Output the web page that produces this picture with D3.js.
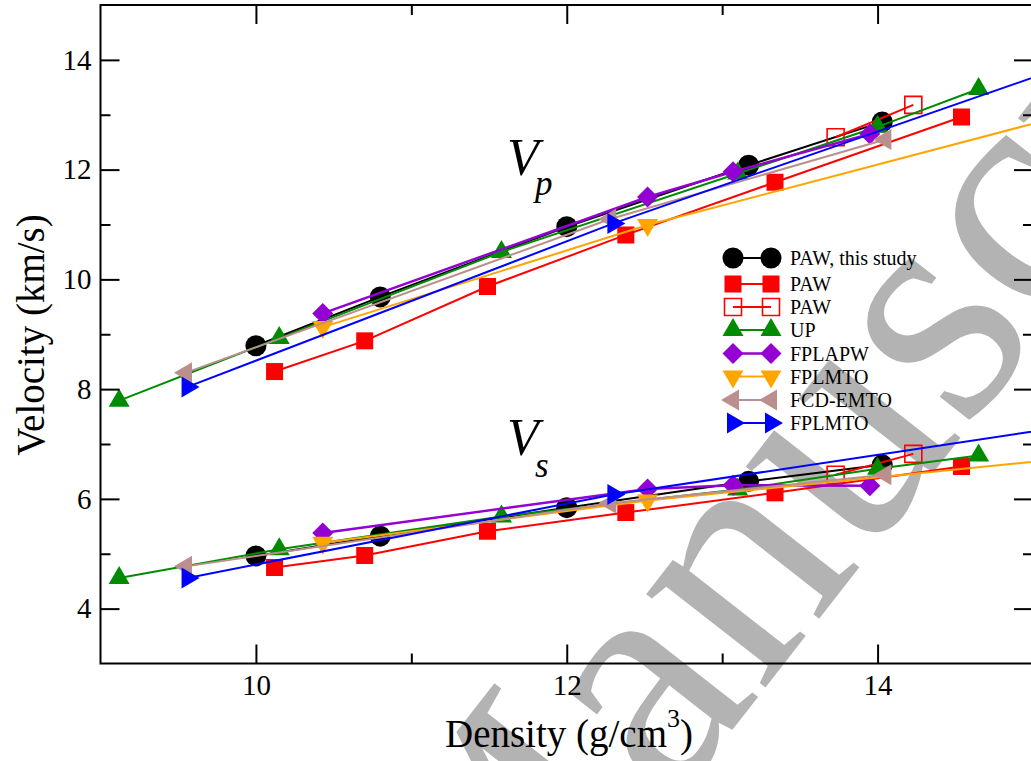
<!DOCTYPE html>
<html><head><meta charset="utf-8">
<script src="https://cdn.jsdelivr.net/npm/d3@7"></script>
<style>
body{margin:0;background:#fff}
svg{display:block}
text{font-family:"Liberation Serif","Times New Roman",serif}
</style>
</head><body>
<svg id="c" width="1031" height="761"></svg>
<script>
// ---------------- data ----------------
const densPawThis = [10.00, 10.80, 12.00, 13.17, 14.03];
const vpPawThis   = [8.79, 9.68, 10.96, 12.08, 12.87];
const vsPawThis   = [4.96, 5.32, 5.84, 6.32, 6.62];

const densPaw = [10.12, 10.70, 11.49, 12.38, 13.34, 14.54];
const vpPaw   = [8.32, 8.88, 9.87, 10.81, 11.77, 12.96];
const vsPaw   = [4.75, 4.97, 5.41, 5.75, 6.11, 6.59];

const densPawOpen = [13.73, 14.23];
const vpPawOpen   = [12.59, 13.18];
const vsPawOpen   = [6.44, 6.82];

const densUP = [9.12, 10.15, 11.58, 13.10, 14.00, 14.65];
const vpUP   = [7.79, 8.93, 10.50, 11.93, 12.78, 13.47];
const vsUP   = [4.56, 5.08, 5.68, 6.17, 6.55, 6.79];

const densFPLAPW = [10.43, 12.52, 13.07, 13.95];
const vpFPLAPW   = [9.38, 11.50, 11.96, 12.65];
const vsFPLAPW   = [5.38, 6.18, 6.25, 6.24];

const densFPLMTO = [10.43, 12.52, 15.5];
const vpFPLMTO   = [9.13, 10.99, 13.21];
const vsFPLMTO   = [5.20, 5.97, 6.82];

const densFCD = [9.55, 12.28, 14.05];
const vpFCD   = [8.30, 11.10, 12.55];
const vsFCD   = [4.77, 5.92, 6.44];

const densFPLMTO2 = [9.56, 12.30, 15.5];
const vpFPLMTO2   = [8.04, 11.02, 14.17];
const vsFPLMTO2   = [4.56, 6.08, 7.44];

const seriesNames = ["PAW, this study", "PAW", "PAW", "UP", "FPLAPW", "FPLMTO", "FCD-EMTO", "FPLMTO"];

const xDomain = [9, 15];
const yDomain = [3, 15];
const xTicksMajor = [10, 12, 14];
const xTicksMinor = [11, 13];
const yTicksMajor = [4, 6, 8, 10, 12, 14];
const yTicksMinor = [5, 7, 9, 11, 13];

const xTitle = "Density (g/cm";
const xTitleSup = "3";
const yTitle = "Velocity (km/s)";
const watermark = "Manuscript";

// ---------------- setup ----------------
const svg = d3.select("#c");
const x = d3.scaleLinear().domain(xDomain).range([100.5, 1033]);
const y = d3.scaleLinear().domain(yDomain).range([663.5, 5]);

// watermark (behind everything)
svg.append("text")
  .attr("transform", "translate(490,1040) rotate(-52)")
  .attr("font-size", 330)
  .attr("fill", "#b3b3b3")
  .text(watermark);

const series = [
  {dens: densPawThis, vp: vpPawThis, vs: vsPawThis, color: "#000000", sym: "circle", open: false, w: 2},
  {dens: densPaw, vp: vpPaw, vs: vsPaw, color: "#ff0000", sym: "square", open: false, w: 2},
  {dens: densPawOpen, vp: vpPawOpen, vs: vsPawOpen, color: "#ff0000", sym: "square", open: true, w: 2},
  {dens: densUP, vp: vpUP, vs: vsUP, color: "#008b00", sym: "triUp", open: false, w: 2},
  {dens: densFPLAPW, vp: vpFPLAPW, vs: vsFPLAPW, color: "#9400d3", sym: "diamond", open: false, w: 2.5},
  {dens: densFPLMTO, vp: vpFPLMTO, vs: vsFPLMTO, color: "#ffa500", sym: "triDown", open: false, w: 2},
  {dens: densFCD, vp: vpFCD, vs: vsFCD, color: "#bc8f8f", sym: "triLeft", open: false, w: 2},
  {dens: densFPLMTO2, vp: vpFPLMTO2, vs: vsFPLMTO2, color: "#0000ff", sym: "triRight", open: false, w: 2}
];
series.forEach((s, i) => s.name = seriesNames[i]);

function symbolPath(type) {
  switch (type) {
    case "circle": return "M10.5,0A10.5,10.5 0 1,1 -10.5,0A10.5,10.5 0 1,1 10.5,0Z";
    case "square": return "M-8.5,-8.5H8.5V8.5H-8.5Z";
    case "triUp": return "M0,-12L10.5,6L-10.5,6Z";
    case "triDown": return "M0,12L10.5,-6L-10.5,-6Z";
    case "triLeft": return "M-12,0L6,-10.5L6,10.5Z";
    case "triRight": return "M12,0L-6,-10.5L-6,10.5Z";
    case "diamond": return "M0,-10.5L10.5,0L0,10.5L-10.5,0Z";
  }
}

// clip
svg.append("clipPath").attr("id", "plotclip").append("rect")
  .attr("x", x(xDomain[0])).attr("y", y(yDomain[1]))
  .attr("width", x(xDomain[1]) - x(xDomain[0]))
  .attr("height", y(yDomain[0]) - y(yDomain[1]));

const plot = svg.append("g").attr("clip-path", "url(#plotclip)");
const line = d3.line().x(d => x(d[0])).y(d => y(d[1]));

series.forEach(s => {
  ["vp", "vs"].forEach(k => {
    const pts = s.dens.map((d, i) => [d, s[k][i]]);
    const g = plot.append("g");
    g.append("path").attr("d", line(pts)).attr("fill", "none")
      .attr("stroke", s.color).attr("stroke-width", s.w);
    g.selectAll("path.m").data(pts).join("path").attr("class", "m")
      .attr("d", symbolPath(s.sym))
      .attr("transform", d => `translate(${x(d[0])},${y(d[1])})`)
      .attr("fill", s.open ? "none" : s.color)
      .attr("stroke", s.open ? s.color : "none")
      .attr("stroke-width", 1.6);
  });
});

// axes
const fontTick = 29;
function styleAxis(g) {
  g.attr("font-family", null);
  g.select(".domain").remove();
  g.selectAll(".tick line").attr("stroke", "#000").attr("stroke-width", 2);
  g.selectAll("text").attr("font-size", fontTick).attr("fill", "#000");
}
svg.append("g").attr("transform", `translate(0,${y(yDomain[0])})`)
  .call(d3.axisBottom(x).tickValues(xTicksMajor).tickSize(-19).tickPadding(11).tickFormat(d3.format("d"))).call(styleAxis);
svg.append("g").attr("transform", `translate(0,${y(yDomain[0])})`)
  .call(d3.axisBottom(x).tickValues(xTicksMinor).tickSize(-10).tickFormat("")).call(styleAxis);
svg.append("g").attr("transform", `translate(0,${y(yDomain[1])})`)
  .call(d3.axisTop(x).tickValues(xTicksMajor).tickSize(-19).tickFormat("")).call(styleAxis);
svg.append("g").attr("transform", `translate(0,${y(yDomain[1])})`)
  .call(d3.axisTop(x).tickValues(xTicksMinor).tickSize(-10).tickFormat("")).call(styleAxis);
svg.append("g").attr("transform", `translate(${x(xDomain[0])},0)`)
  .call(d3.axisLeft(y).tickValues(yTicksMajor).tickSize(-19).tickPadding(9).tickFormat(d3.format("d"))).call(styleAxis);
svg.append("g").attr("transform", `translate(${x(xDomain[0])},0)`)
  .call(d3.axisLeft(y).tickValues(yTicksMinor).tickSize(-10).tickFormat("")).call(styleAxis);
svg.append("g").attr("transform", `translate(${x(xDomain[1])},0)`)
  .call(d3.axisRight(y).tickValues(yTicksMajor).tickSize(-19).tickFormat("")).call(styleAxis);
svg.append("g").attr("transform", `translate(${x(xDomain[1])},0)`)
  .call(d3.axisRight(y).tickValues(yTicksMinor).tickSize(-10).tickFormat("")).call(styleAxis);

// frame
svg.append("rect")
  .attr("x", x(xDomain[0])).attr("y", y(yDomain[1]))
  .attr("width", x(xDomain[1]) - x(xDomain[0]))
  .attr("height", y(yDomain[0]) - y(yDomain[1]))
  .attr("fill", "none").attr("stroke", "#000").attr("stroke-width", 2);

// axis titles
const xt = svg.append("text").attr("x", 569).attr("y", 747)
  .attr("text-anchor", "middle").attr("font-size", 39).attr("fill", "#000");
xt.append("tspan").text(xTitle);
xt.append("tspan").attr("font-size", 26).attr("dy", -20).text(xTitleSup);
xt.append("tspan").attr("dy", 20).text(")");

svg.append("text").attr("transform", "translate(44,335) rotate(-90)")
  .attr("text-anchor", "middle").attr("font-size", 39).attr("fill", "#000")
  .text(yTitle);

// V_p, V_s labels
function vlabel(xp, yp, sub, subDy) {
  const t = svg.append("g");
  t.append("text").attr("x", xp).attr("y", yp).attr("font-size", 52)
    .attr("font-style", "italic").attr("fill", "#000").text("V");
  t.append("text").attr("x", xp + 28).attr("y", yp + subDy).attr("font-size", 35)
    .attr("font-style", "italic").attr("fill", "#000").text(sub);
}
vlabel(507, 175, "p", 20);
vlabel(507, 455, "s", 22);

// legend
const legRows = [258, 284, 307, 330, 353.5, 376.5, 400, 423];
const leg = svg.append("g");
series.forEach((s, i) => {
  const ry = legRows[i];
  const g = leg.append("g");
  g.append("line").attr("x1", 733).attr("x2", 771).attr("y1", ry).attr("y2", ry)
    .attr("stroke", s.color).attr("stroke-width", s.w);
  [733, 771].forEach(px => {
    g.append("path").attr("d", symbolPath(s.sym))
      .attr("transform", `translate(${px},${ry})`)
      .attr("fill", s.open ? "none" : s.color)
      .attr("stroke", s.open ? s.color : "none").attr("stroke-width", 1.6);
  });
  g.append("text").attr("x", 790).attr("y", ry).attr("dy", "0.35em")
    .attr("font-size", 20).attr("fill", "#000").text(s.name);
});
</script>
</body></html>
